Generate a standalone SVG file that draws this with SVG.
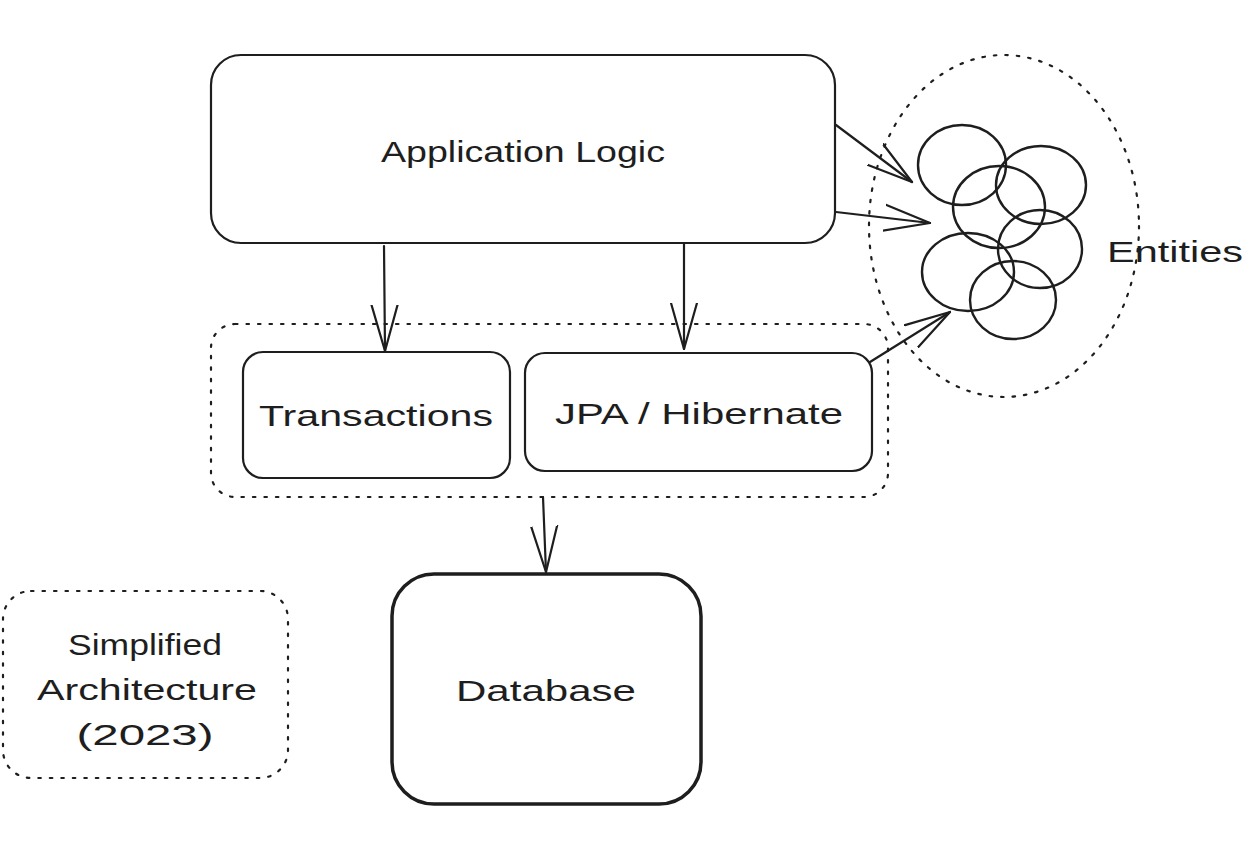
<svg xmlns="http://www.w3.org/2000/svg" width="1260" height="860" viewBox="0 0 1260 860">
  <style>
    .box { fill: #ffffff; stroke: #1e1e1e; stroke-width: 2.2; stroke-linejoin: round; }
    .thick { stroke-width: 3.5; }
    .dotted { fill: none; stroke: #1e1e1e; stroke-width: 2.2; stroke-dasharray: 2.5 9; stroke-linecap: round; }
    .ent { fill: none; stroke: #1e1e1e; stroke-width: 2.4; }
    .edge { fill: none; stroke: #1e1e1e; stroke-width: 2.2; stroke-linecap: round; }
    .lbl { font-family: "Liberation Sans", "DejaVu Sans", sans-serif; font-size: 30px; fill: #1e1e1e; text-anchor: middle; }
  </style>
  <defs>
    <!-- long, narrow open arrowhead -->
    <marker id="open" viewBox="0 0 48 30" refX="46" refY="15" markerWidth="48" markerHeight="30" markerUnits="userSpaceOnUse" orient="auto">
      <path d="M0,2 L46,15 L0,28" fill="none" stroke="#1e1e1e" stroke-width="2.2" stroke-linecap="round" stroke-linejoin="round"/>
    </marker>
  </defs>
  <rect width="1260" height="860" fill="#ffffff"/>

  <!-- grouping frames -->
  <g id="frame-persistence">
    <rect class="dotted" x="211" y="324" width="677" height="173" rx="24"/>
  </g>
  <g id="frame-entities">
    <ellipse class="dotted" cx="1004" cy="226" rx="135" ry="171"/>
  </g>

  <g id="node-app">
    <rect class="box" x="211" y="55" width="624" height="188" rx="30"/>
    <text class="lbl" x="523" y="162" textLength="284" lengthAdjust="spacingAndGlyphs">Application Logic</text>
  </g>

  <g id="node-transactions">
    <rect class="box" x="243" y="352" width="267" height="126" rx="20"/>
    <text class="lbl" x="376" y="426" textLength="234" lengthAdjust="spacingAndGlyphs">Transactions</text>
  </g>

  <g id="node-jpa">
    <rect class="box" x="525" y="353" width="347" height="118" rx="20"/>
    <text class="lbl" x="699" y="424" textLength="288" lengthAdjust="spacingAndGlyphs">JPA / Hibernate</text>
  </g>

  <g id="node-database">
    <rect class="box thick" x="392" y="574" width="309" height="230" rx="42"/>
    <text class="lbl" x="546" y="701" textLength="180" lengthAdjust="spacingAndGlyphs">Database</text>
  </g>

  <g id="node-entities">
    <ellipse class="ent" cx="962" cy="165" rx="44" ry="40"/>
    <ellipse class="ent" cx="1041" cy="185" rx="45" ry="39"/>
    <ellipse class="ent" cx="999" cy="207" rx="46" ry="41"/>
    <ellipse class="ent" cx="1040" cy="249" rx="42" ry="39"/>
    <ellipse class="ent" cx="968" cy="272" rx="46" ry="39"/>
    <ellipse class="ent" cx="1013" cy="300" rx="43" ry="39"/>
    <text class="lbl" x="1175" y="262" textLength="136" lengthAdjust="spacingAndGlyphs">Entities</text>
  </g>

  <g id="note">
    <rect class="dotted" x="3" y="591" width="285" height="187" rx="28"/>
    <text class="lbl" x="145" y="655" textLength="154" lengthAdjust="spacingAndGlyphs">Simplified</text>
    <text class="lbl" x="147" y="700" textLength="220" lengthAdjust="spacingAndGlyphs">Architecture</text>
    <text class="lbl" x="145" y="745" textLength="137" lengthAdjust="spacingAndGlyphs">(2023)</text>
  </g>

  <g id="connectors">
    <path class="edge" d="M384,246 L385,351" marker-end="url(#open)"/>
    <path class="edge" d="M684,244 L684,349" marker-end="url(#open)"/>
    <path class="edge" d="M836,125 L912,182" marker-end="url(#open)"/>
    <path class="edge" d="M836,212 L930,223" marker-end="url(#open)"/>
    <path class="edge" d="M870,362 L950,312" marker-end="url(#open)"/>
    <path class="edge" d="M543,497 L546,572" marker-end="url(#open)"/>
  </g>
</svg>
